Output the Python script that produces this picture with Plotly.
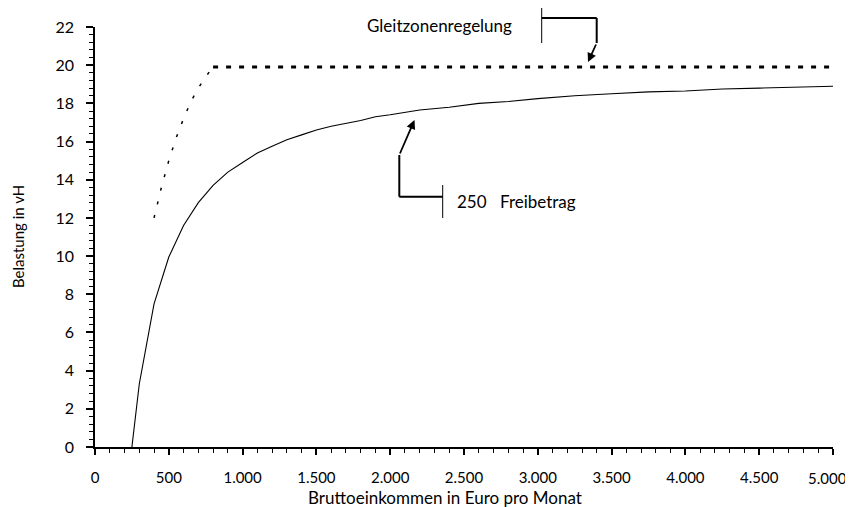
import plotly.graph_objects as go

# --- data ---
income = [250, 300, 400, 500, 600, 700, 800, 900, 1000, 1100, 1200, 1300, 1400, 1500,
          1600, 1700, 1800, 1900, 2000, 2200, 2400, 2600, 2800, 3000, 3250, 3500,
          3750, 4000, 4250, 4500, 4750, 5000]
burden_freibetrag = [0.0, 3.3, 7.5, 9.95, 11.6, 12.8, 13.7, 14.4, 14.9, 15.4, 15.75, 16.1,
                     16.35, 16.6, 16.8, 16.95, 17.1, 17.3, 17.4, 17.65, 17.8, 18.0, 18.1,
                     18.25, 18.4, 18.5, 18.6, 18.65, 18.75, 18.8, 18.85, 18.9]

gleit_income = [400, 450, 500, 550, 600, 650, 700, 750, 800]
gleit_burden = [12.0, 13.6, 15.0, 16.2, 17.2, 18.1, 18.8, 19.4, 19.9]

flat_income = [800, 5000]
flat_burden = [19.9, 19.9]

x_tickvals = [0, 500, 1000, 1500, 2000, 2500, 3000, 3500, 4000, 4500, 5000]
x_ticktext = ["0", "500", "1.000", "1.500", "2.000", "2.500", "3.000", "3.500",
              "4.000", "4.500", "5.000"]
y_tickvals = [0, 2, 4, 6, 8, 10, 12, 14, 16, 18, 20, 22]

FONT = "Lato, 'Open Sans', sans-serif"

fig = go.Figure()
fig.add_trace(go.Scatter(x=income, y=burden_freibetrag, mode="lines",
                         line=dict(color="black", width=1.1), showlegend=False))
fig.add_trace(go.Scatter(x=gleit_income, y=gleit_burden, mode="lines",
                         line=dict(color="black", width=1.5, dash="3px,11px"),
                         showlegend=False))
fig.add_trace(go.Scatter(x=flat_income, y=flat_burden, mode="lines",
                         line=dict(color="black", width=3, dash="5px,8px"),
                         showlegend=False))

OFF = 8  # page body margin
W, H = 845, 499
L, T = 95 - OFF, 27 - OFF
R = W - (833 - OFF)
B = H - (447 - OFF)
pw, ph = W - L - R, H - T - B


def px(sx):
    return (sx - OFF - L) / pw


def py(sy):
    return (H - B - (sy - OFF)) / ph


shapes = []


def seg(x0, y0, x1, y1, w):
    shapes.append(dict(type="line", xref="paper", yref="paper",
                       x0=px(x0), y0=py(y0), x1=px(x1), y1=py(y1),
                       line=dict(color="black", width=w)))


# Gleitzone bracket
seg(541.7, 8, 541.7, 43, 1)
seg(541.7, 18, 596.7, 18, 2)
seg(596.7, 18, 596.7, 43, 2)
# Freibetrag bracket
seg(442.7, 185, 442.7, 218, 1)
seg(399.3, 196.7, 442.7, 196.7, 2)
seg(399.3, 196.7, 399.3, 155, 2)


def txt(text, sx, sy, xa="center", size=17, angle=0):
    return dict(text=text, xref="paper", yref="paper", x=px(sx), y=py(sy),
                xanchor=xa, yanchor="middle", textangle=angle, showarrow=False,
                font=dict(size=size, color="black", family=FONT))


# the last tick label sits flush with the right edge (shifted left in the reference)
shown_ticktext = x_ticktext[:-1] + [""]

annotations = [
    txt("Gleitzonenregelung", 439, 25),
    txt("250", 455, 202, xa="left"),
    txt("Freibetrag", 498, 202, xa="left"),
    # arrows
    dict(text="", xref="paper", yref="paper", x=px(588), y=py(62), ax=8.7, ay=-19,
         showarrow=True, arrowhead=2, arrowsize=1, arrowwidth=1.8, arrowcolor="black"),
    dict(text="", xref="paper", yref="paper", x=px(414.5), y=py(120), ax=-15.2, ay=35,
         showarrow=True, arrowhead=2, arrowsize=1, arrowwidth=1.8, arrowcolor="black"),
    # last x tick label
    dict(text=x_ticktext[-1], xref="x", yref="paper", x=x_tickvals[-1], y=py(478),
         xanchor="center", xshift=-6, yanchor="middle", showarrow=False,
         font=dict(size=15, color="black", family=FONT)),
    # axis titles
    txt("Bruttoeinkommen in Euro pro Monat", 445, 497, size=17),
    txt("Belastung in vH", 18, 237, size=15, angle=-90),
]

fig.update_layout(
    width=W, height=H,
    margin=dict(l=L, r=R, t=T, b=B, autoexpand=False),
    paper_bgcolor="white", plot_bgcolor="white",
    font=dict(family=FONT, color="black", size=16),
    shapes=shapes,
    annotations=annotations,
    xaxis=dict(range=[0, 5000], tickvals=x_tickvals, ticktext=shown_ticktext,
               showline=True, linecolor="black", linewidth=1.5,
               ticks="outside", ticklen=6, tickwidth=1.5, tickcolor="black",
               minor=dict(dtick=100, ticklen=4, tickwidth=1.2, tickcolor="black",
                          ticks="outside"),
               showgrid=False, zeroline=False, ticklabelstandoff=10,
               automargin=False, ticklabeloverflow="allow",
               tickfont=dict(size=15, family=FONT, color="black")),
    yaxis=dict(range=[0, 22], tickvals=y_tickvals,
               showline=True, linecolor="black", linewidth=1.5,
               ticks="outside", ticklen=7, tickwidth=1.5, tickcolor="black",
               minor=dict(dtick=0.4, ticklen=4, tickwidth=1.2, tickcolor="black",
                          ticks="outside"),
               showgrid=False, zeroline=False, ticklabelstandoff=9,
               automargin=False,
               tickfont=dict(size=16, family=FONT, color="black")),
)

fig.write_html("out.html")
